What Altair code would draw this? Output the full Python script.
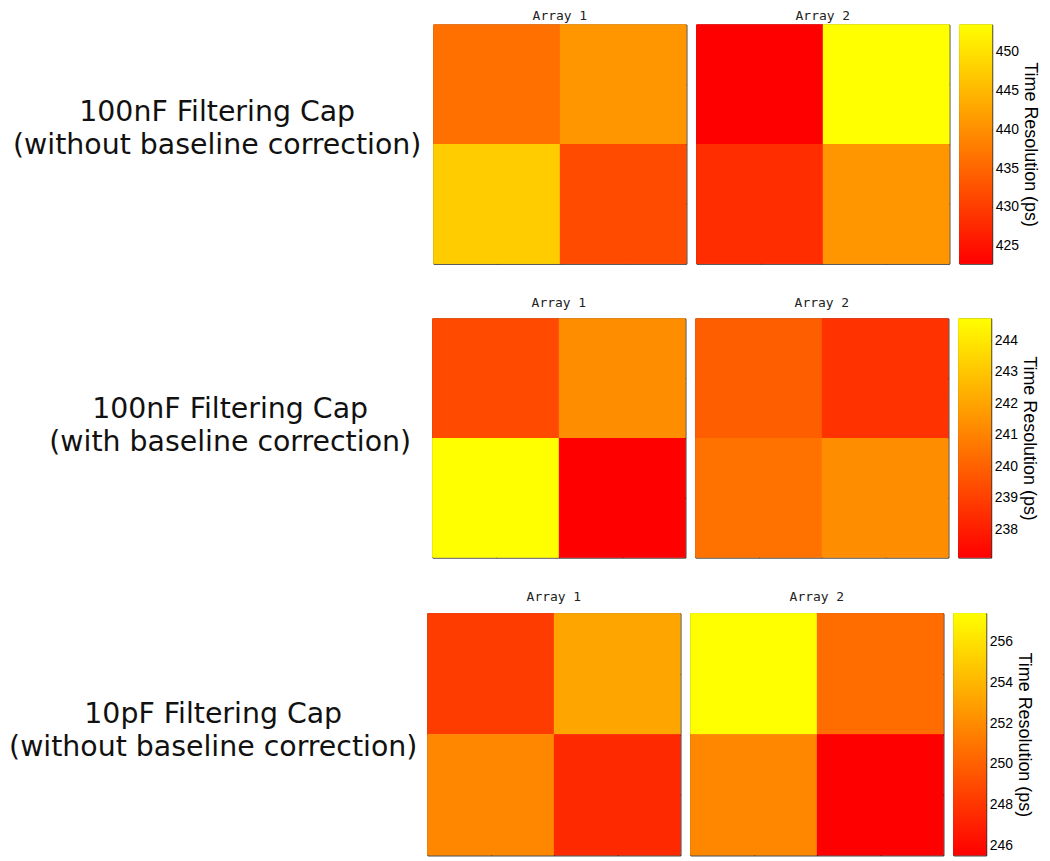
import altair as alt
import pandas as pd

# ---------------- data ----------------
row_labels = [
    "100nF Filtering Cap\n(without baseline correction)",
    "100nF Filtering Cap\n(with baseline correction)",
    "10pF Filtering Cap\n(without baseline correction)",
]
array_names = ["Array 1", "Array 2"]
# cell order: top-left, top-right, bottom-left, bottom-right
cell_rows = [1, 1, 2, 2]
cell_cols = [1, 2, 1, 2]

row1_array1 = [436.2, 440.8, 447.4, 431.7]
row1_array2 = [422.7, 453.5, 428.1, 440.8]
row2_array1 = [239.3, 241.3, 244.7, 237.1]
row2_array2 = [239.9, 238.6, 240.5, 241.3]
row3_array1 = [248.3, 253.2, 251.8, 247.4]
row3_array2 = [257.4, 250.6, 251.8, 245.5]

row1_ticks = [425, 430, 435, 440, 445, 450]
row2_ticks = [238, 239, 240, 241, 242, 243, 244]
row3_ticks = [246, 248, 250, 252, 254, 256]

cbar_title = "Time Resolution (ps)"

# ---------------- helpers ----------------
CMAP = ["#ff0000", "#ffff00"]


def tick_axis(orient, values):
    return alt.Axis(orient=orient, values=values, labels=False, domain=False,
                    grid=False, ticks=True, tickSize=3, offset=-3, tickColor="black",
                    tickWidth=1, title=None, minExtent=0, maxExtent=0)


def heat(values, name, dmin, dmax, w, h, toff):
    df = pd.DataFrame({"r": cell_rows, "c": cell_cols, "v": values})
    base = alt.Chart(df).transform_calculate(
        x0="datum.c - 0.5", x1="datum.c + 0.5",
        y0="datum.r - 0.5", y1="datum.r + 0.5")
    xs = alt.Scale(domain=[0.5, 2.5], nice=False, zero=False)
    ys = alt.Scale(domain=[0.5, 2.5], nice=False, zero=False, reverse=True)
    cs = alt.Scale(domain=[dmin, dmax], range=CMAP, interpolate="rgb")
    tv = [1, 1.5, 2]
    l1 = base.mark_rect().encode(
        x=alt.X("x0:Q", scale=xs, axis=tick_axis("bottom", tv)), x2="x1:Q",
        y=alt.Y("y0:Q", scale=ys, axis=tick_axis("left", tv)), y2="y1:Q",
        color=alt.Color("v:Q", scale=cs, legend=None))
    l2 = base.mark_rect().encode(
        x=alt.X("x0:Q", scale=xs, axis=tick_axis("top", tv)), x2="x1:Q",
        y=alt.Y("y0:Q", scale=ys, axis=tick_axis("right", tv)), y2="y1:Q",
        color=alt.Color("v:Q", scale=cs, legend=None))
    return alt.layer(l1, l2).resolve_axis(x="independent", y="independent").properties(
        width=w, height=h,
        title=alt.TitleParams(name, offset=toff, font="DejaVu Sans Mono", fontSize=13,
                              fontWeight="normal", anchor="middle", color="#222222",
                              frame="group"))


def cbar(dmin, dmax, ticks, w, h):
    df = pd.DataFrame({"lo": [dmin], "hi": [dmax], "a": [0], "b": [1]})
    ys = alt.Scale(domain=[dmin, dmax], nice=False, zero=False)
    xs = alt.Scale(domain=[0, 1], nice=False, zero=False)
    grad = alt.LinearGradient(
        gradient="linear",
        stops=[alt.GradientStop(color=CMAP[0], offset=0),
               alt.GradientStop(color=CMAP[1], offset=1)],
        x1=0, x2=0, y1=1, y2=0)
    right = alt.Chart(df).mark_rect(fill=grad).encode(
        x=alt.X("a:Q", scale=xs, axis=None), x2="b:Q",
        y=alt.Y("lo:Q", scale=ys, axis=alt.Axis(
            orient="right", values=ticks, tickSize=3, offset=-3, domain=False,
            grid=False, tickColor="black", labelPadding=3, labelFont="Liberation Sans",
            labelFontSize=14, labelColor="black", title=cbar_title, titleAngle=90,
            titleFont="Liberation Sans", titleFontSize=18, titleFontWeight="normal",
            titleColor="black", titlePadding=2, minExtent=0)),
        y2="hi:Q")
    left = alt.Chart(df).mark_rect(fill=grad).encode(
        x=alt.X("a:Q", scale=xs, axis=None), x2="b:Q",
        y=alt.Y("lo:Q", scale=ys, axis=tick_axis("left", ticks)),
        y2="hi:Q")
    return alt.layer(left, right).resolve_axis(y="independent").properties(width=w, height=h)


def label_chart(text, w, h, cx, by):
    df = pd.DataFrame({"t": [text]})
    return alt.Chart(df).mark_text(
        lineBreak="\n", font="DejaVu Sans", fontSize=28.5, align="center",
        baseline="alphabetic", lineHeight=33, color="#111111"
    ).encode(text="t:N", x=alt.value(cx), y=alt.value(by)).properties(
        width=w, height=h, view=alt.ViewBackground(stroke="transparent", strokeWidth=0))


def row(label, v1, v2, ticks, text_w, cx, by, h, toff):
    dmin = min(v1 + v2)
    dmax = max(v1 + v2)
    return alt.hconcat(
        label_chart(label, text_w, h, cx, by),
        heat(v1, array_names[0], dmin, dmax, 254, h, toff),
        heat(v2, array_names[1], dmin, dmax, 254, h, toff),
        cbar(dmin, dmax, ticks, 33, h),
        spacing=8,
    ).resolve_scale(color="independent")


r1 = row(row_labels[0], row1_array1, row1_array2, row1_ticks, 418, 210, 97, 240, 1)
r2 = row(row_labels[1], row2_array1, row2_array2, row2_ticks, 417, 223, 100, 240, 8)
r3 = row(row_labels[2], row3_array1, row3_array2, row3_ticks, 412, 206, 110, 243, 9)

chart = alt.vconcat(r1, r2, r3, spacing=32).resolve_scale(color="independent").properties(
    padding={"left": 0, "top": 0, "right": 3, "bottom": 0}, background="white"
).configure_view(stroke="black", strokeWidth=1)

chart.save("out.html", embed_options={"renderer": "svg", "actions": False})
